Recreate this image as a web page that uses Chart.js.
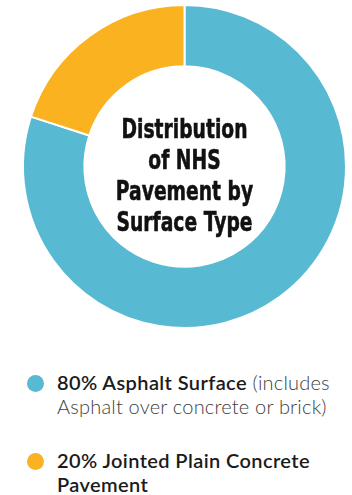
<!DOCTYPE html>
<html>
<head>
<meta charset="utf-8">
<script src="https://cdn.jsdelivr.net/npm/chart.js@4"></script>
<style>
  html, body { margin: 0; padding: 0; background: #fff; }
  body { width: 352px; height: 495px; overflow: hidden; font-family: Lato, "Open Sans", sans-serif; }
  #wrap { position: relative; width: 352px; height: 335px; }
  #legend { position: relative; margin: 0; padding: 0; list-style: none; }
  #legend li { position: absolute; left: 57px; font-size: 20px; line-height: 24px; color: #1b1b1b; letter-spacing: 0.4px; }
  #legend .dot { position: absolute; left: -30px; top: 5px; width: 17px; height: 17px; border-radius: 50%; }
  #legend .note { color: #404040; font-weight: 300; letter-spacing: 0.2px; }
  #legend .main { font-weight: 600; }
</style>
</head>
<body>
<div id="wrap"><canvas id="chart" width="352" height="335"></canvas></div>
<ul id="legend"></ul>
<script>
// NHS pavement share by surface type
const labels = ['Asphalt Surface', 'Jointed Plain Concrete Pavement'];
const shares = [80, 20];
const colors = ['#58b9d2', '#fbb220'];
const notes = ['(includes Asphalt over concrete or brick)', ''];
const centerLines = ['Distribution', 'of NHS', 'Pavement by', 'Surface Type'];

// title in the hole, squeezed horizontally to look condensed
const centerText = {
  id: 'centerText',
  afterDraw(chart) {
    const arc = chart.getDatasetMeta(0).data[0];
    const ctx = chart.ctx;
    ctx.save();
    ctx.fillStyle = '#111';
    ctx.strokeStyle = '#111';
    ctx.lineWidth = 0.6;
    ctx.textAlign = 'center';
    ctx.textBaseline = 'alphabetic';
    ctx.font = 'bold 26px "DejaVu Sans", sans-serif';
    ctx.translate(arc.x, 0);
    ctx.scale(0.72, 1);
    const lh = 31;
    const y0 = arc.y - 29;
    centerLines.forEach((t, i) => {
      ctx.fillText(t, 0, y0 + i * lh);
      ctx.strokeText(t, 0, y0 + i * lh);
    });
    ctx.restore();
  }
};

new Chart(document.getElementById('chart'), {
  type: 'doughnut',
  data: {
    labels: labels,
    datasets: [{
      data: shares,
      backgroundColor: colors,
      borderColor: '#fff',
      borderWidth: 2
    }]
  },
  options: {
    responsive: false,
    animation: false,
    cutout: '62%',
    layout: { padding: { left: 22, right: 5, top: 4, bottom: 6 } },
    plugins: { legend: { display: false }, tooltip: { enabled: false } }
  },
  plugins: [centerText]
});

// legend below the ring
const legend = document.getElementById('legend');
const tops = [35, 113];
const widths = [285, 260];
labels.forEach((name, i) => {
  const li = document.createElement('li');
  li.style.top = tops[i] + 'px';
  li.style.width = widths[i] + 'px';
  const dot = document.createElement('span');
  dot.className = 'dot';
  dot.style.background = colors[i];
  li.appendChild(dot);
  const main = document.createElement('span');
  main.className = 'main';
  main.textContent = shares[i] + '% ' + name;
  li.appendChild(main);
  if (notes[i]) {
    const n = document.createElement('span');
    n.className = 'note';
    n.textContent = ' ' + notes[i];
    li.appendChild(n);
  }
  legend.appendChild(li);
});
</script>
</body>
</html>
